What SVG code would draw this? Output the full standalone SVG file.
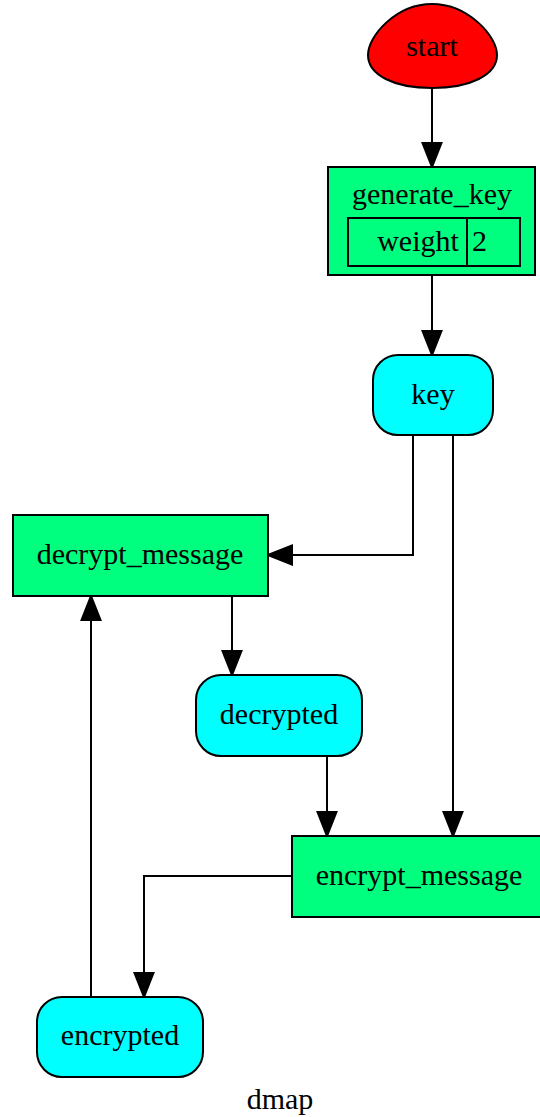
<svg xmlns="http://www.w3.org/2000/svg" width="540" height="1117" viewBox="0 0 540 1117">
<style>
text{font-family:"Liberation Serif","Times New Roman",serif;font-size:30px;fill:#000}
.c{text-anchor:middle}
.n{stroke:#000;stroke-width:2}
.e{fill:none;stroke:#000;stroke-width:2;marker-end:url(#ah)}
</style>
<defs>
<marker id="ah" markerUnits="userSpaceOnUse" viewBox="0 0 26 22" refX="25" refY="11" markerWidth="26" markerHeight="22" orient="auto">
<path d="M1,1.5 L25,11 L1,20.5 Z" fill="#000" stroke="#000" stroke-width="2"/>
</marker>
</defs>
<rect width="540" height="1117" fill="#fff"/>
<g id="connectors">
<path class="e" d="M432,88 L432,167"/>
<path class="e" d="M432,275 L432,355"/>
<path class="e" d="M413,435 L413,555 L268,555"/>
<path class="e" d="M453,435 L453,836"/>
<path class="e" d="M232,596 L232,675"/>
<path class="e" d="M327,756 L327,836"/>
<path class="e" d="M292,876 L144,876 L144,997"/>
<path class="e" d="M91,997 L91,596"/>
</g>
<g id="start">
<path class="n" fill="#ff0000" d="M432,4 C468,4 497,36 497,55 C497,75 470,88 432,88 C394,88 368,75 368,55 C368,36 396,4 432,4 Z"/>
<text class="c" x="432" y="56">start</text>
</g>
<g id="generate_key">
<rect class="n" fill="#00ff7f" x="328" y="167" width="207" height="108"/>
<rect class="n" fill="none" x="348" y="218" width="172" height="48"/>
<line class="n" x1="467" y1="218" x2="467" y2="266"/>
<text class="c" x="432" y="204">generate_key</text>
<text class="c" x="418" y="251">weight</text>
<text x="472" y="251">2</text>
</g>
<g id="key">
<rect class="n" fill="#00ffff" x="373" y="355" width="120" height="80" rx="25"/>
<text class="c" x="433" y="404">key</text>
</g>
<g id="decrypt_message">
<rect class="n" fill="#00ff7f" x="13" y="515" width="255" height="81"/>
<text class="c" x="140" y="564">decrypt_message</text>
</g>
<g id="decrypted">
<rect class="n" fill="#00ffff" x="196" y="675" width="166" height="81" rx="25"/>
<text class="c" x="279" y="724">decrypted</text>
</g>
<g id="encrypt_message">
<rect class="n" fill="#00ff7f" x="292" y="836" width="255" height="81"/>
<text class="c" x="419" y="885">encrypt_message</text>
</g>
<g id="encrypted">
<rect class="n" fill="#00ffff" x="37" y="997" width="166" height="80" rx="25"/>
<text class="c" x="120" y="1045">encrypted</text>
</g>
<text class="c" x="280" y="1109">dmap</text>
</svg>
